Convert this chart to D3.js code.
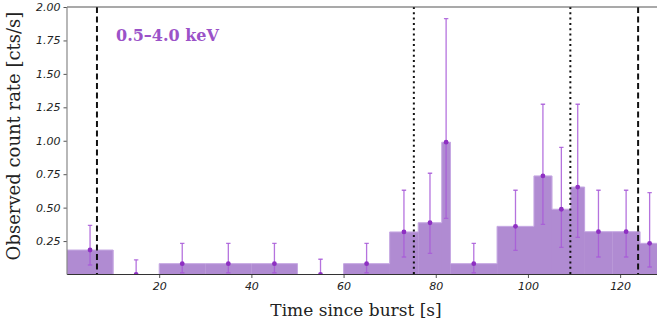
<!DOCTYPE html>
<html>
<head>
<meta charset="utf-8">
<script src="https://cdn.jsdelivr.net/npm/d3@7"></script>
<style>
  html, body { margin: 0; padding: 0; background: #fff; }
  svg { display: block; }
</style>
</head>
<body>
<svg id="chart" width="657" height="327"></svg>
<script>
// ---- Data ----
const binEdges = [0, 10, 20, 30, 40, 50, 60, 70, 76.2, 81.3, 83.2, 93.3, 101.3, 105.2, 109.3, 112.3, 118.3, 124.3, 128.5];
const rates    = [0.183, 0, 0.081, 0.081, 0.081, 0, 0.081, 0.318, 0.387, 0.989, 0.081, 0.36, 0.737, 0.488, 0.654, 0.32, 0.32, 0.233];
const upperErr = [0.368, 0.11, 0.233, 0.233, 0.233, 0.114, 0.233, 0.63, 0.757, 1.913, 0.233, 0.63, 1.273, 0.951, 1.273, 0.63, 0.63, 0.612];
const lowerErr = [0.071, 0, 0.013, 0.013, 0.013, 0, 0.013, 0.131, 0.158, 0.42, 0.013, 0.181, 0.375, 0.203, 0.278, 0.131, 0.131, 0.056];
const dashedLines = [6.5, 123.9];
const dottedLines = [75.25, 109.2];
const xTicks = [20, 40, 60, 80, 100, 120];
const yTicks = [0.25, 0.5, 0.75, 1.0, 1.25, 1.5, 1.75, 2.0];
const bandLabel = "0.5–4.0 keV";

// ---- Layout ----
const svg = d3.select("#chart");
const mLeft = 67, mRight = 657, mTop = 7, mBottom = 274.5;
const x = d3.scaleLinear().domain([0, 128]).range([mLeft, mRight]);
const y = d3.scaleLinear().domain([0, 2]).range([mBottom, mTop]);

svg.append("defs").append("clipPath").attr("id", "clip")
  .append("rect").attr("x", mLeft).attr("y", mTop).attr("width", mRight - mLeft).attr("height", mBottom - mTop);

const plot = svg.append("g").attr("clip-path", "url(#clip)");

const bins = rates.map((r, i) => ({
  x0: binEdges[i], x1: binEdges[i + 1], r: r, up: upperErr[i], lo: lowerErr[i],
  mid: (binEdges[i] + binEdges[i + 1]) / 2
}));

// bars (filled)
plot.selectAll("rect.bar").data(bins).join("rect")
  .attr("class", "bar")
  .attr("x", d => x(d.x0))
  .attr("width", d => x(d.x1) - x(d.x0) + 0.3)
  .attr("y", d => y(d.r))
  .attr("height", d => y(0) - y(d.r))
  .attr("fill", "#b08bd2");

// step outline (lighter edge)
const stepPts = [];
bins.forEach(d => { stepPts.push([d.x0, d.r]); stepPts.push([d.x1, d.r]); });
plot.append("path")
  .attr("d", d3.line().x(p => x(p[0])).y(p => y(p[1]))(stepPts))
  .attr("fill", "none").attr("stroke", "#c6a8e3").attr("stroke-width", 1);

// vertical lines
plot.selectAll("line.dash").data(dashedLines).join("line")
  .attr("class", "dash")
  .attr("x1", d => x(d)).attr("x2", d => x(d))
  .attr("y1", mTop).attr("y2", mBottom)
  .attr("stroke", "#111").attr("stroke-width", 2).attr("stroke-dasharray", "6,3.5");
plot.selectAll("line.dot").data(dottedLines).join("line")
  .attr("class", "dot")
  .attr("x1", d => x(d)).attr("x2", d => x(d))
  .attr("y1", mTop).attr("y2", mBottom)
  .attr("stroke", "#111").attr("stroke-width", 2).attr("stroke-dasharray", "2,3.3");

// error bars
const eb = plot.selectAll("g.eb").data(bins).join("g").attr("class", "eb");
eb.append("line")
  .attr("x1", d => x(d.mid)).attr("x2", d => x(d.mid))
  .attr("y1", d => y(d.up)).attr("y2", d => y(d.lo))
  .attr("stroke", "#a85ad8").attr("stroke-opacity", 0.85).attr("stroke-width", 1.3);
eb.append("line")
  .attr("x1", d => x(d.mid) - 2.2).attr("x2", d => x(d.mid) + 2.2)
  .attr("y1", d => y(d.up)).attr("y2", d => y(d.up))
  .attr("stroke", "#a85ad8").attr("stroke-opacity", 0.85).attr("stroke-width", 1.3);
eb.append("line")
  .attr("x1", d => x(d.mid) - 2.2).attr("x2", d => x(d.mid) + 2.2)
  .attr("y1", d => y(d.lo)).attr("y2", d => y(d.lo))
  .attr("stroke", "#a85ad8").attr("stroke-opacity", 0.85).attr("stroke-width", 1.3);
eb.append("circle")
  .attr("cx", d => x(d.mid)).attr("cy", d => y(d.r)).attr("r", 2.4)
  .attr("fill", "#8e30c2");

// axes
const xAxis = svg.append("g").attr("transform", `translate(0,${mBottom})`)
  .call(d3.axisBottom(x).tickValues(xTicks).tickSize(3.5).tickPadding(4).tickFormat(d3.format("d")));
const yAxis = svg.append("g").attr("transform", `translate(${mLeft},0)`)
  .call(d3.axisLeft(y).tickValues(yTicks).tickSize(3.5).tickPadding(3).tickFormat(d3.format(".2f")));
[xAxis, yAxis].forEach(a => {
  a.select(".domain").remove();
  a.selectAll(".tick line").attr("stroke", "#555");
  a.selectAll(".tick text")
    .attr("fill", "#222")
    .style("font-family", "'DejaVu Sans', sans-serif")
    .style("font-style", "italic")
    .style("font-size", "11px");
});

// spines
svg.append("line").attr("x1", mLeft).attr("x2", mRight).attr("y1", mBottom).attr("y2", mBottom)
  .attr("stroke", "#333").attr("stroke-width", 1.2);
svg.append("line").attr("x1", mLeft).attr("x2", mRight).attr("y1", mTop).attr("y2", mTop)
  .attr("stroke", "#555").attr("stroke-width", 1.2);
svg.append("line").attr("x1", mLeft).attr("x2", mLeft).attr("y1", mTop).attr("y2", mBottom)
  .attr("stroke", "#888").attr("stroke-width", 1.2);

// labels
svg.append("text").attr("x", 356).attr("y", 316).attr("text-anchor", "middle")
  .style("font-family", "'DejaVu Serif', serif").style("font-size", "17px").attr("fill", "#222")
  .text("Time since burst [s]");
svg.append("text").attr("transform", "translate(20,136) rotate(-90)").attr("text-anchor", "middle")
  .style("font-family", "'DejaVu Serif', serif").style("font-size", "18px").attr("fill", "#222")
  .text("Observed count rate [cts/s]");
svg.append("text").attr("x", 116).attr("y", 41)
  .style("font-family", "'DejaVu Serif', serif").style("font-weight", "bold").style("font-size", "16px")
  .attr("fill", "#9b52c8")
  .text(bandLabel);
</script>
</body>
</html>
